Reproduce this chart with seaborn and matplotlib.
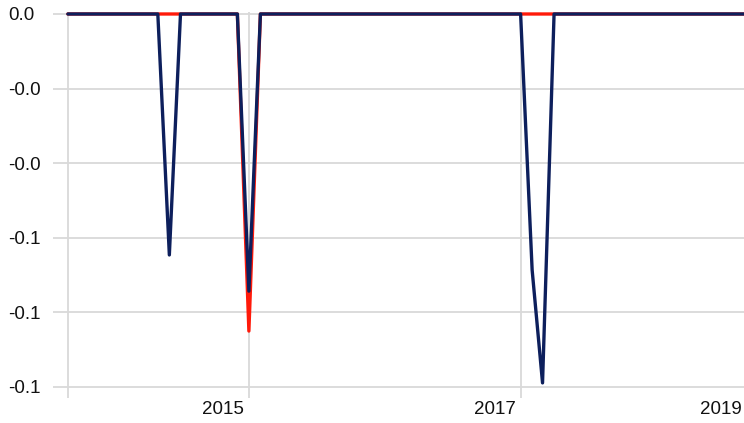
import matplotlib
matplotlib.use("Agg")
import matplotlib.pyplot as plt
import matplotlib.transforms as mtransforms
import seaborn as sns
import pandas as pd
import numpy as np

# ---- data (monthly, Sep 2013 .. Sep 2018) ----
dates = pd.date_range("2013-09-01", "2018-09-01", freq="MS")
red_values = [
    0, 0, 0, 0,                     # 2013 Sep-Dec
    0, 0, 0, 0, 0, 0, 0, 0, 0, 0, 0, 0,  # 2014
    -0.085, 0, 0, 0, 0, 0, 0, 0, 0, 0, 0, 0,  # 2015
    0, 0, 0, 0, 0, 0, 0, 0, 0, 0, 0, 0,  # 2016
    0, 0, 0, 0, 0, 0, 0, 0, 0, 0, 0, 0,  # 2017
    0, 0, 0, 0, 0, 0, 0, 0, 0,           # 2018 Jan-Sep
]
navy_values = [
    0, 0, 0, 0,
    0, 0, 0, 0, 0, -0.0646, 0, 0, 0, 0, 0, 0,
    -0.0743, 0, 0, 0, 0, 0, 0, 0, 0, 0, 0, 0,
    0, 0, 0, 0, 0, 0, 0, 0, 0, 0, 0, 0,
    0, -0.0686, -0.0989, 0, 0, 0, 0, 0, 0, 0, 0, 0,
    0, 0, 0, 0, 0, 0, 0, 0, 0,
]
y_ticks = [0.0, -0.02, -0.04, -0.06, -0.08, -0.10]
x_tick_dates = ["2013-09-01", "2015-01-01", "2017-01-01"]
x_tick_labels = ["", "2015", "2017"]
extra_label = "2019"

df = pd.DataFrame({"date": dates, "red": red_values, "navy": navy_values})

sns.set_theme(style="white")
plt.rcParams["font.family"] = ["Liberation Sans", "DejaVu Sans"]

W, H = 744, 423
fig = plt.figure(figsize=(W / 100, H / 100), dpi=100)
ax = fig.add_axes([53 / W, 1 - 398 / H, (W - 53) / W, (398 - 12.5) / H])

grid_color = "#d9d9d9"
for v in y_ticks:
    ax.axhline(v, color=grid_color, lw=1.3, zorder=0)
for d in x_tick_dates:
    ax.axvline(pd.Timestamp(d), color=grid_color, lw=1.3, zorder=0)

sns.lineplot(data=df, x="date", y="red", ax=ax, color="#ff1a0a", lw=2.4,
             zorder=3, clip_on=False)
sns.lineplot(data=df, x="date", y="navy", ax=ax, color="#0d1f5c", lw=2.4,
             zorder=4, clip_on=False)

ax.set_ylim(-0.10295, 0.0004)
ax.set_xlim(pd.Timestamp("2013-07-23"), pd.Timestamp("2018-08-25"))

ax.set_yticks(y_ticks)
ax.set_yticklabels([f"{v:.1f}" for v in y_ticks])
ax.set_xticks([pd.Timestamp(d) for d in x_tick_dates])
ax.set_xticklabels(x_tick_labels)

ax.tick_params(axis="y", length=0, pad=32.4, labelsize=13.5, colors="#111111")
for lbl in ax.get_yticklabels():
    lbl.set_ha("left")
ax.tick_params(axis="x", length=0, pad=2.5, labelsize=13.5, colors="#111111")
offset = mtransforms.ScaledTranslation(-5 / 100, 0, fig.dpi_scale_trans)
for lbl in ax.get_xticklabels():
    lbl.set_ha("right")
    lbl.set_transform(lbl.get_transform() + offset)

fig.text(742 / W, 1 - 400.5 / H, extra_label, ha="right", va="top",
         fontsize=13.5, color="#111111")

ax.set_xlabel("")
ax.set_ylabel("")
for s in ax.spines.values():
    s.set_visible(False)
ax.grid(False)

fig.savefig("out.png", dpi=100)
